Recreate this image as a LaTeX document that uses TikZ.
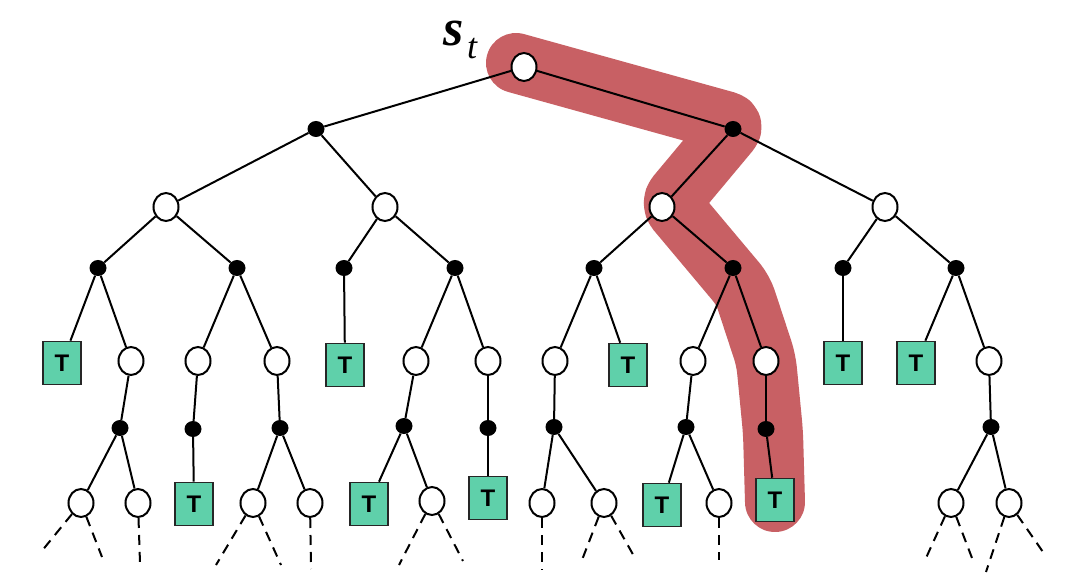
\documentclass[tikz,border=0pt]{standalone}
\usepackage{fontspec}
\newfontfamily\tfont{Liberation Sans}
\newfontfamily\serfont{Liberation Serif}
\usetikzlibrary{shapes.geometric}
\definecolor{hlred}{RGB}{200,96,100}
\definecolor{mint}{RGB}{95,208,170}
\tikzset{
  wnode/.style={ellipse, draw=black, fill=white, line width=2pt, minimum width=25pt, minimum height=28pt, inner sep=0pt},
  bnode/.style={ellipse, fill=black, minimum width=17pt, minimum height=16pt, inner sep=0pt},
  tnode/.style={rectangle, draw=black!85, fill=mint, line width=1.6pt, minimum width=38pt, minimum height=43pt, inner sep=0pt, font=\tfont\bfseries\fontsize{24}{24}\selectfont},
  edge/.style={line width=2pt, black},
  dedge/.style={line width=2pt, black, dash pattern=on 10pt off 7pt},
  hl/.style={line width=60pt, hlred, line cap=round, line join=round, rounded corners=10pt}
}
\begin{document}
\begin{tikzpicture}[x=1pt, y=-1pt]
\useasboundingbox (0,0) rectangle (1088,580);
\fill[white] (0,0) rectangle (1088,580);
% highlight
\coordinate (h1) at (516,63);
\coordinate (h2) at (736,124);
\coordinate (h3) at (670,203);
\coordinate (h4) at (743,290);
\coordinate (h5) at (766,360);
\coordinate (h6) at (773,432);
\coordinate (h7) at (775,502);
\draw[hl] (h1) -- (h2) -- (h3) -- (h4) -- (h5) -- (h6) -- (h7);
% label
\node[anchor=base, inner sep=0pt] (slab) at (454,46) {\serfont\bfseries\itshape\fontsize{52}{52}\selectfont s};
\node[anchor=base, inner sep=0pt] (tlab) at (472,59) {\serfont\itshape\fontsize{36}{36}\selectfont t};
% nodes
\node[wnode] (r) at (524,67) {};
\node[bnode] (a1) at (316,129) {};
\node[bnode] (a2) at (733,129) {};
\node[wnode] (b1) at (166,207) {};
\node[wnode] (b2) at (385,207) {};
\node[wnode] (b3) at (662,207) {};
\node[wnode] (b4) at (885,207) {};
\node[bnode] (c1) at (98,268) {};
\node[bnode] (c2) at (237,268) {};
\node[bnode] (c3) at (344,268) {};
\node[bnode] (c4) at (455,268) {};
\node[bnode] (c5) at (594,268) {};
\node[bnode] (c6) at (733,268) {};
\node[bnode] (c7) at (843,268) {};
\node[bnode] (c8) at (956,268) {};
\node[tnode] (t1) at (62,363) {T};
\node[wnode] (d1) at (131,361) {};
\node[wnode] (d2) at (198,361) {};
\node[wnode] (d3) at (277,361) {};
\node[tnode] (t2) at (345,365) {T};
\node[wnode] (d4) at (416,361) {};
\node[wnode] (d5) at (488,361) {};
\node[wnode] (d6) at (555,361) {};
\node[tnode] (t3) at (628,365) {T};
\node[wnode] (d7) at (693,361) {};
\node[wnode] (d8) at (766,361) {};
\node[tnode] (t4) at (843,363) {T};
\node[tnode] (t5) at (916,363) {T};
\node[wnode] (d9) at (989,361) {};
\node[bnode] (e1) at (120,428) {};
\node[bnode] (e2) at (193,429) {};
\node[bnode] (e3) at (280,428) {};
\node[bnode] (e4) at (404,426) {};
\node[bnode] (e5) at (488,428) {};
\node[bnode] (e6) at (554,427) {};
\node[bnode] (e7) at (686,427) {};
\node[bnode] (e8) at (766,429) {};
\node[bnode] (e9) at (991,427) {};
\node[wnode] (f1) at (81,503) {};
\node[wnode] (f2) at (138,503) {};
\node[tnode] (t6) at (194,504) {T};
\node[wnode] (f3) at (253,503) {};
\node[wnode] (f4) at (310,503) {};
\node[tnode] (t7) at (369,504) {T};
\node[wnode] (f5) at (432,501) {};
\node[tnode] (t8) at (488,498) {T};
\node[wnode] (f6) at (542,503) {};
\node[wnode] (f7) at (604,503) {};
\node[tnode] (t9) at (662,505) {T};
\node[wnode] (f8) at (719,503) {};
\node[tnode] (t10) at (775,500) {T};
\node[wnode] (f9) at (951,503) {};
\node[wnode] (f10) at (1009,503) {};
% dashed ends
\coordinate (g1) at (41,552);
\coordinate (g2) at (102,557);
\coordinate (g3) at (140,563);
\coordinate (g4) at (216,565);
\coordinate (g5) at (281,565);
\coordinate (g6) at (311,569);
\coordinate (g7) at (399,565);
\coordinate (g8) at (463,561);
\coordinate (g9) at (542,570);
\coordinate (g10) at (582,560);
\coordinate (g11) at (635,558);
\coordinate (g12) at (719,560);
\coordinate (g13) at (926,558);
\coordinate (g14) at (972,558);
\coordinate (g15) at (986,572);
\coordinate (g16) at (1043,552);
% edges
\foreach \u/\v in {r/a1, r/a2, a1/b1, a1/b2, a2/b3, a2/b4,
  b1/c1, b1/c2, b2/c3, b2/c4, b3/c5, b3/c6, b4/c7, b4/c8,
  c1/t1, c1/d1, c2/d2, c2/d3, c3/t2, c4/d4, c4/d5, c5/d6, c5/t3, c6/d7, c6/d8, c7/t4, c8/t5, c8/d9,
  d1/e1, d2/e2, d3/e3, d4/e4, d5/e5, d6/e6, d7/e7, d8/e8, d9/e9,
  e1/f1, e1/f2, e2/t6, e3/f3, e3/f4, e4/t7, e4/f5, e5/t8, e6/f6, e6/f7, e7/t9, e7/f8, e8/t10, e9/f9, e9/f10}
  \draw[edge] (\u) -- (\v);
\foreach \u/\v in {f1/g1, f1/g2, f2/g3, f3/g4, f3/g5, f4/g6, f5/g7, f5/g8, f6/g9, f7/g10, f7/g11, f8/g12, f9/g13, f9/g14, f10/g15, f10/g16}
  \draw[dedge] (\u) -- (\v);
\end{tikzpicture}
\end{document}
